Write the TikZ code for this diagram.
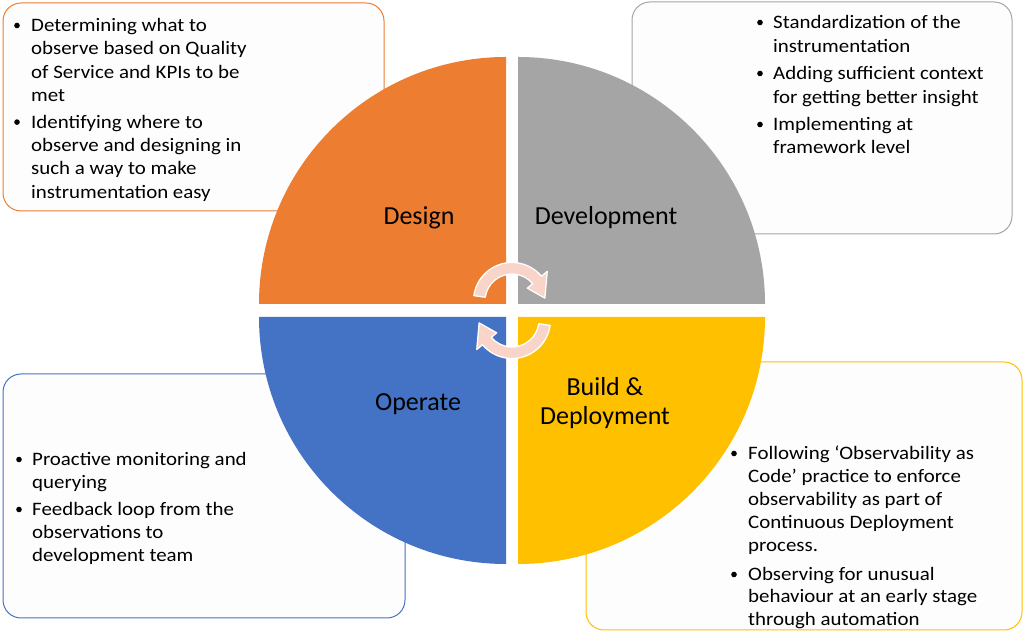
\documentclass[tikz,border=0pt]{standalone}
\usepackage{fontspec}
\setmainfont{Carlito}
\newfontfamily\bfont{Carlito}[FakeStretch=1.1]
\usetikzlibrary{calc}
\definecolor{cOrange}{HTML}{ED7D31}
\definecolor{cGray}{HTML}{A5A5A5}
\definecolor{cBlue}{HTML}{4472C4}
\definecolor{cGold}{HTML}{FFC000}
\definecolor{cPink}{RGB}{248,213,200}
\definecolor{cBoxFill}{HTML}{FDFDFD}
\tikzset{
  infobox/.style={line width=1pt, fill=cBoxFill, rounded corners=18pt},
  bt/.style={anchor=base west, inner sep=0pt, font=\bfont\fontsize{19}{23.3}\selectfont},
  qlabel/.style={anchor=base, inner sep=0pt, font=\fontsize{26}{29}\selectfont},
  bul/.style={fill=black},
  cyc/.style={fill=cPink, draw=white, line width=1.3pt, line join=round}
}
\begin{document}
\begin{tikzpicture}[x=1pt,y=1pt]
\useasboundingbox (0,0) rectangle (1024,644);
\fill[white] (0,0) rectangle (1024,644);

% boxes
\draw[infobox, draw=cOrange] (3,433) rectangle (384,641);
\draw[infobox, draw=cGray] (632,410) rectangle (1012,642);
\draw[infobox, draw=cBlue] (3,26) rectangle (405,270);
\draw[infobox, draw=cGold] (586,14) rectangle (1022,282);

% quadrants
\fill[cOrange] (506,340) -- (259,340) arc[start angle=180, end angle=90, radius=247] -- cycle;
\fill[cGray] (518,340) -- (518,587) arc[start angle=90, end angle=0, radius=247] -- cycle;
\fill[cBlue] (506,327) -- (259,327) arc[start angle=180, end angle=270, radius=247] -- cycle;
\fill[cGold] (518,327) -- (765,327) arc[start angle=0, end angle=-90, radius=247] -- cycle;

% labels
\node[qlabel] (lDesign) at (419,419) {Design};
\node[qlabel] (lDev) at (606,419) {Development};
\node[qlabel] (lOp) at (418,233) {Operate};
\node[qlabel] (lBuild1) at (605,248) {Build \&};
\node[qlabel] (lBuild2) at (605,219) {Deployment};

% cycle arrows
\coordinate (c1) at (512,343);
\coordinate (c2) at (512,324);
\draw[cyc] ($(c1)+(172:38.5)$) arc[start angle=172, end angle=40, radius=38.5]
  -- ($(c1)+(40:46)$) -- ($(c1)+(5:33)$) -- ($(c1)+(40:20)$) -- ($(c1)+(40:27)$)
  arc[start angle=40, end angle=172, radius=27] -- cycle;
\draw[cyc] ($(c2)+(-8:38.5)$) arc[start angle=-8, end angle=-140, radius=38.5]
  -- ($(c2)+(-140:46)$) -- ($(c2)+(-175:33)$) -- ($(c2)+(-140:20)$) -- ($(c2)+(-140:27)$)
  arc[start angle=-140, end angle=-8, radius=27] -- cycle;

% Design text
\fill[bul] (17,618.5) circle (2.8);
\node[bt] (d1) at (31,612.3) {Determining what to};
\node[bt] (d2) at (31,589) {observe based on Quality};
\node[bt] (d3) at (31,565.7) {of Service and KPIs to be};
\node[bt] (d4) at (31,542.4) {met};
\fill[bul] (17,521.9) circle (2.8);
\node[bt] (d5) at (31,515.7) {Identifying where to};
\node[bt] (d6) at (31,492.4) {observe and designing in};
\node[bt] (d7) at (31,469) {such a way to make};
\node[bt] (d8) at (31,445.7) {instrumentation easy};

% Development text
\fill[bul] (760,621.5) circle (2.8);
\node[bt] (v1) at (773,615.3) {Standardization of the};
\node[bt] (v2) at (773,591.3) {instrumentation};
\fill[bul] (760,570.5) circle (2.8);
\node[bt] (v3) at (773,564.3) {Adding sufficient context};
\node[bt] (v4) at (773,540.3) {for getting better insight};
\fill[bul] (760,519.5) circle (2.8);
\node[bt] (v5) at (773,513.3) {Implementing at};
\node[bt] (v6) at (773,490.3) {framework level};

% Operate text
\fill[bul] (19,184.5) circle (2.8);
\node[bt] (o1) at (32,178.3) {Proactive monitoring and};
\node[bt] (o2) at (32,155.3) {querying};
\fill[bul] (19,134.5) circle (2.8);
\node[bt] (o3) at (32,128.3) {Feedback loop from the};
\node[bt] (o4) at (32,105.3) {observations to};
\node[bt] (o5) at (32,82.3) {development team};

% Build text
\fill[bul] (734,190.5) circle (2.8);
\node[bt] (b1) at (748,184.3) {Following ‘Observability as};
\node[bt] (b2) at (748,161.3) {Code’ practice to enforce};
\node[bt] (b3) at (748,138.3) {observability as part of};
\node[bt] (b4) at (748,115.3) {Continuous Deployment};
\node[bt] (b5) at (748,92.3) {process.};
\fill[bul] (734,69.5) circle (2.8);
\node[bt] (b6) at (748,63.3) {Observing for unusual};
\node[bt] (b7) at (748,41.3) {behaviour at an early stage};
\node[bt] (b8) at (748,18.3) {through automation};
\end{tikzpicture}
\end{document}
